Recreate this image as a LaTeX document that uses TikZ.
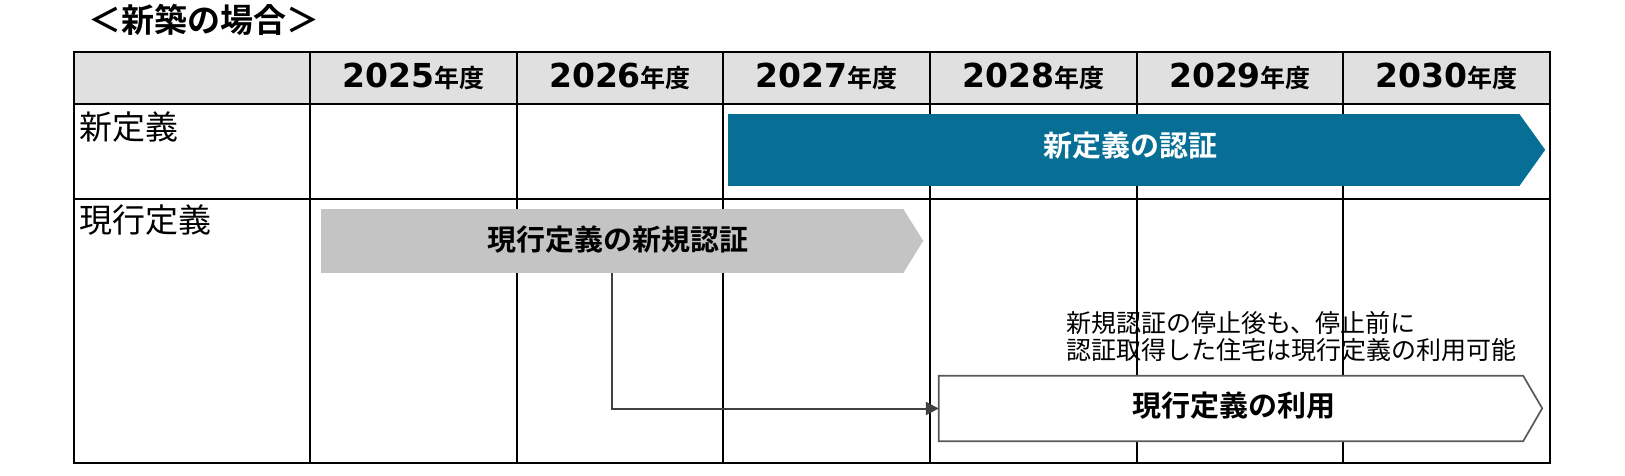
\documentclass[tikz,border=0pt]{standalone}
\usepackage{fontspec}
\setmainfont{Noto Sans CJK JP}[BoldFont={Noto Sans CJK JP Bold}]
\newfontfamily\digitfont{DejaVu Sans}
\usetikzlibrary{arrows.meta}
\definecolor{headgray}{HTML}{E0E0E0}
\definecolor{petrolblue}{HTML}{076F96}
\definecolor{bargray}{HTML}{C4C4C4}
\definecolor{edgegray}{HTML}{595959}
\definecolor{linkgray}{HTML}{404040}

\begin{document}
\begin{tikzpicture}[x=1pt, y=-1pt,
            grid/.style = {black, line width=2pt},
            year/.style = {anchor=base, inner sep=0pt, font=\bfseries\fontsize{25}{29}\selectfont},
            rowlabel/.style = {anchor=base west, inner sep=0pt, font=\fontsize{33}{38}\selectfont},
            bar/.style = {rectangle, inner sep=0pt, draw=none},
            bartext/.style = {inner sep=0pt, font=\bfseries\fontsize{29}{34}\selectfont},
            note/.style = {anchor=north west, align=left, inner sep=0pt, font=\fontsize{25}{27}\selectfont},
            ]
            \useasboundingbox (0,0) rectangle (1625,475);

            \node[anchor=west, inner sep=0pt, font=\bfseries\fontsize{33}{38}\selectfont] (title) at (88,20) {＜新築の場合＞};

            % table
            \fill[headgray] (74,52) rectangle (1550,104);
            \draw[grid]
                (74,52) rectangle (1550,463)
                (74,104) -- (1550,104)
                (74,198.5) -- (1550,198.5)
                (310,52) -- (310,463)
                (516.7,52) -- (516.7,463)
                (723.3,52) -- (723.3,463)
                (930,52) -- (930,463)
                (1136.7,52) -- (1136.7,463)
                (1343.3,52) -- (1343.3,463);

            \node[year] (y2025) at (413.3,87) {{\digitfont\fontsize{33}{38}\selectfont 2025}年度};
            \node[year] (y2026) at (620,87) {{\digitfont\fontsize{33}{38}\selectfont 2026}年度};
            \node[year] (y2027) at (826.7,87) {{\digitfont\fontsize{33}{38}\selectfont 2027}年度};
            \node[year] (y2028) at (1033.3,87) {{\digitfont\fontsize{33}{38}\selectfont 2028}年度};
            \node[year] (y2029) at (1240,87) {{\digitfont\fontsize{33}{38}\selectfont 2029}年度};
            \node[year] (y2030) at (1446.7,87) {{\digitfont\fontsize{33}{38}\selectfont 2030}年度};

            \node[rowlabel] (newdef) at (79,139) {新定義};
            \node[rowlabel] (curdef) at (79,232) {現行定義};

            % bars
            \node[bar, fill=petrolblue, minimum width=791pt, minimum height=72pt] (newcert) at (1123.5,150) {};
            \fill[petrolblue] ([xshift=-1pt]newcert.north east) -- (newcert.north east) -- ++(26,36)
                -- (newcert.south east) -- ([xshift=-1pt]newcert.south east) -- cycle;

            \node[bar, fill=bargray, minimum width=582pt, minimum height=64pt] (oldcert) at (612,241) {};
            \fill[bargray] ([xshift=-1pt]oldcert.north east) -- (oldcert.north east) -- ++(20,32)
                -- (oldcert.south east) -- ([xshift=-1pt]oldcert.south east) -- cycle;

            \node[bar, fill=white, minimum width=584pt, minimum height=65pt] (curuse) at (1231,408.5) {};
            \draw[edgegray, line width=1.7pt] (curuse.north west) -- (curuse.north east) -- ++(19,32.5)
                -- (curuse.south east) -- (curuse.south west) -- cycle;

            \node[bartext, white] (newcerttext) at (1130,146) {新定義の認証};
            \node[bartext] (oldcerttext) at (618,240) {現行定義の新規認証};
            \node[bartext] (curusetext) at (1234,406) {現行定義の利用};

            \node[note] (remark) at (1066,311) {新規認証の停止後も、停止前に\\認証取得した住宅は現行定義の利用可能};

            \draw[linkgray, line width=2pt, -{Triangle[length=13pt, width=13pt]}] (oldcert.south) |- (curuse.west);

        \end{tikzpicture}
\end{document}
